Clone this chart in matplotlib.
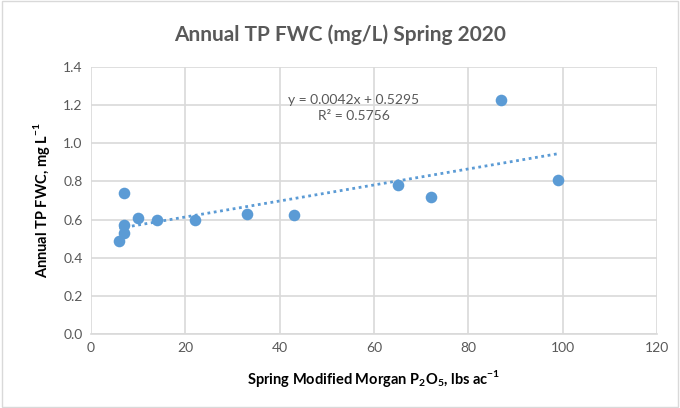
import matplotlib
import matplotlib.pyplot as plt
import numpy as np

# Spring Modified Morgan P2O5 (lbs/ac) vs annual TP FWC (mg/L)
p2o5 = [6, 7, 7, 7, 10, 14, 22, 33, 43, 65, 72, 87, 99]
tp_fwc = [0.49, 0.74, 0.57, 0.53, 0.61, 0.60, 0.60, 0.63, 0.625, 0.78, 0.72, 1.225, 0.81]

slope = 0.0042
intercept = 0.5295
r2 = 0.5756

xticks = [0, 20, 40, 60, 80, 100, 120]
yticks = [0.0, 0.2, 0.4, 0.6, 0.8, 1.0, 1.2, 1.4]

blue = '#5B9BD5'
grey = '#595959'
gridc = '#D9D9D9'

matplotlib.rcParams['font.family'] = ['Lato', 'DejaVu Sans']
matplotlib.rcParams['axes.unicode_minus'] = False

fig = plt.figure(figsize=(6.8, 4.08), dpi=100)
ax = fig.add_axes([91 / 680, 1 - 334 / 408, (657 - 91) / 680, (334 - 67) / 408])

ax.scatter(p2o5, tp_fwc, s=70, color=blue, zorder=3, linewidths=0)

xs = np.array([min(p2o5), max(p2o5)])
ax.plot(xs, slope * xs + intercept, color=blue, linestyle=(0, (1, 1.3)), linewidth=2, zorder=2)

fig.text(354 / 680, 1 - 108 / 408, f'y = {slope}x + {intercept}\nR² = {r2}', color=grey,
         fontsize=10, ha='center', va='center', linespacing=1.3)

ax.set_xlim(0, 120)
ax.set_ylim(0, 1.4)
ax.set_xticks(xticks)
ax.set_yticks(yticks)
ax.set_yticklabels([f'{v:.1f}' for v in yticks])
ax.grid(True, color=gridc, linewidth=1.2)
ax.set_axisbelow(True)
for s in ['top', 'right', 'left']:
  ax.spines[s].set_visible(False)
ax.spines['bottom'].set_color(gridc)
ax.spines['bottom'].set_linewidth(1.2)
ax.tick_params(length=0, colors=grey, labelsize=10, pad=6)

ax.set_xlabel(r'Spring Modified Morgan P$_\mathregular{2}$O$_\mathregular{5}$, lbs ac$^\mathregular{-1}$',
              fontsize=10.5, fontweight='bold', labelpad=10)
ax.set_ylabel(r'Annual TP FWC, mg L$^\mathregular{-1}$', fontsize=10.5, fontweight='bold', labelpad=8)

fig.text(0.5, 1 - 35 / 408, 'Annual TP FWC (mg/L) Spring 2020', ha='center', va='center',
         fontsize=15, color=grey, fontweight='bold')

fig.patches.append(plt.Rectangle((0.003, 0.003), 0.994, 0.994, transform=fig.transFigure,
                                 fill=False, edgecolor=gridc, linewidth=1))

plt.savefig('out.png', dpi=100)
